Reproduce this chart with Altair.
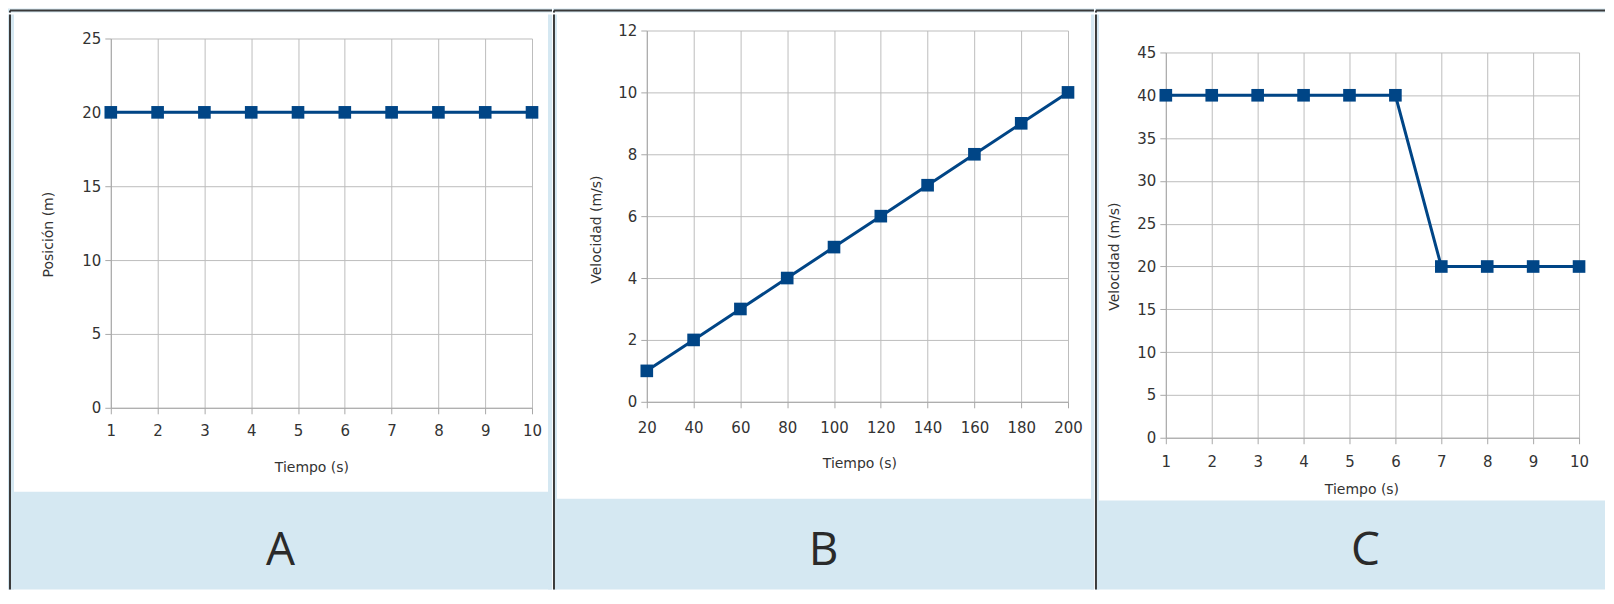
import altair as alt
import pandas as pd

# ---------------- data ----------------
tiempo_a = [1, 2, 3, 4, 5, 6, 7, 8, 9, 10]
posicion_a = [20, 20, 20, 20, 20, 20, 20, 20, 20, 20]

tiempo_b = [20, 40, 60, 80, 100, 120, 140, 160, 180, 200]
velocidad_b = [1, 2, 3, 4, 5, 6, 7, 8, 9, 10]

tiempo_c = [1, 2, 3, 4, 5, 6, 7, 8, 9, 10]
velocidad_c = [40, 40, 40, 40, 40, 40, 20, 20, 20, 20]

x_ticks_a = [1, 2, 3, 4, 5, 6, 7, 8, 9, 10]
y_ticks_a = [0, 5, 10, 15, 20, 25]
x_ticks_b = [20, 40, 60, 80, 100, 120, 140, 160, 180, 200]
y_ticks_b = [0, 2, 4, 6, 8, 10, 12]
x_ticks_c = [1, 2, 3, 4, 5, 6, 7, 8, 9, 10]
y_ticks_c = [0, 5, 10, 15, 20, 25, 30, 35, 40, 45]

x_title = "Tiempo (s)"
y_title_a = "Posición (m)"
y_title_b = "Velocidad (m/s)"
y_title_c = "Velocidad (m/s)"
letters = ["A", "B", "C"]

# ---------------- styles ----------------
BLUE = "#d5e8f2"
BORDER = "#3a3a3a"
SERIES = "#004586"
TOP, BOTTOM = 8, 588          # absolute page y of the drawing
WHITE_TOP = 12
LETTER_Y = 549

one = alt.Data(values=[{"k": 0}])


def band(x1, x2, y1, y2, opacity=1):
    return alt.Chart(one).mark_rect(color=BLUE, opacity=opacity).encode(
        x=alt.value(x1), x2=alt.value(x2), y=alt.value(y1), y2=alt.value(y2))


def rule(x1, x2, y1, y2):
    return alt.Chart(one).mark_rule(color=BORDER, strokeWidth=2).encode(
        x=alt.value(x1), x2=alt.value(x2), y=alt.value(y1), y2=alt.value(y2))


def column(t, v, xt, yt, ytitle, letter, p):
    ox, oy = p["ox"], p["oy"]
    W, H = p["W"], p["H"]
    rx = lambda a: a - ox
    ry = lambda a: a - oy
    cx1, cx2 = rx(p["cell_x1"]), rx(p["cell_x2"])
    bx = rx(p["border_x"])

    # strip above the white area (abs y 8..12), with the top border line
    top = alt.layer(
        band(cx1, cx2, 0, WHITE_TOP - TOP),
        rule(bx, cx2, 10 - TOP, 10 - TOP),
        rule(bx, bx, 10 - TOP, WHITE_TOP - TOP),
    ).properties(width=W, height=WHITE_TOP - TOP)

    layers = [
        band(cx1, cx2, ry(WHITE_TOP), ry(BOTTOM), opacity=0),
        band(cx1, rx(p["white_x1"]), ry(WHITE_TOP), ry(BOTTOM)),
        band(cx1, cx2, ry(p["white_y2"]), ry(BOTTOM)),
    ]
    if p["white_x2"] < p["cell_x2"]:
        layers.append(band(rx(p["white_x2"]), cx2, ry(WHITE_TOP), ry(BOTTOM)))
    layers += [
        rule(bx, bx, ry(WHITE_TOP), ry(BOTTOM)),
        alt.Chart(one).mark_text(font="Open Sans", fontSize=46, color="#2a2a2a",
                                 align="center", baseline="middle").encode(
            x=alt.value(rx(p["letter_x"])), y=alt.value(ry(LETTER_Y)),
            text=alt.value(letter)),
    ]
    df = pd.DataFrame({"t": t, "v": v})
    xenc = alt.X("t:Q",
                 scale=alt.Scale(domain=[xt[0], xt[-1]], nice=False, zero=False),
                 axis=alt.Axis(values=xt, title=x_title, labelPadding=p["xlab_pad"],
                               titleX=p["xt_x"], titleY=p["xt_y"],
                               titleBaseline="middle", titleAlign="center"))
    yenc = alt.Y("v:Q",
                 scale=alt.Scale(domain=[yt[0], yt[-1]], nice=False),
                 axis=alt.Axis(values=yt, title=ytitle, labelPadding=4,
                               titleX=p["yt_x"], titleY=p["yt_y"],
                               titleBaseline="middle", titleAlign="center"))
    base = alt.Chart(df).encode(x=xenc, y=yenc)
    layers += [
        base.mark_line(color=SERIES, strokeWidth=3),
        base.mark_point(shape="square", filled=True, size=160, color=SERIES, opacity=1),
    ]
    panel = alt.layer(*layers).properties(width=W, height=H)
    return alt.vconcat(top, panel, spacing=0)


pa = dict(ox=111, oy=36, W=422, H=370, cell_x1=8, cell_x2=553,
          white_x1=14, white_x2=549, white_y2=490, border_x=10, letter_x=281,
          xlab_pad=10, xt_x=201, xt_y=60, yt_x=-62, yt_y=196)
pb = dict(ox=647, oy=28, W=422, H=372, cell_x1=553, cell_x2=1095,
          white_x1=557, white_x2=1092, white_y2=497, border_x=554, letter_x=824,
          xlab_pad=13, xt_x=213, xt_y=62, yt_x=-50, yt_y=199)
pc = dict(ox=1166, oy=50, W=414, H=386, cell_x1=1095, cell_x2=1606,
          white_x1=1099, white_x2=1606, white_y2=499, border_x=1096, letter_x=1366,
          xlab_pad=11, xt_x=196, xt_y=52, yt_x=-51, yt_y=204)

col_a = column(tiempo_a, posicion_a, x_ticks_a, y_ticks_a, y_title_a, letters[0], pa)
col_b = column(tiempo_b, velocidad_b, x_ticks_b, y_ticks_b, y_title_b, letters[1], pb)
col_c = column(tiempo_c, velocidad_c, x_ticks_c, y_ticks_c, y_title_c, letters[2], pc)

chart = alt.hconcat(col_a, col_b, col_c, spacing=0).properties(
    padding=0, background="white"
).configure_view(strokeWidth=0).configure_axis(
    labelFont="DejaVu Sans", labelFontSize=15, labelColor="#333333",
    titleFont="DejaVu Sans", titleFontSize=14, titleFontWeight="normal",
    titleColor="#333333", gridColor="#bdbdbd", gridWidth=1,
    domainColor="#a8a8a8", tickColor="#a8a8a8", tickSize=6,
    labelFlush=False, labelOverlap=False,
)

chart.save("out.html", embed_options={"renderer": "svg", "actions": False})
